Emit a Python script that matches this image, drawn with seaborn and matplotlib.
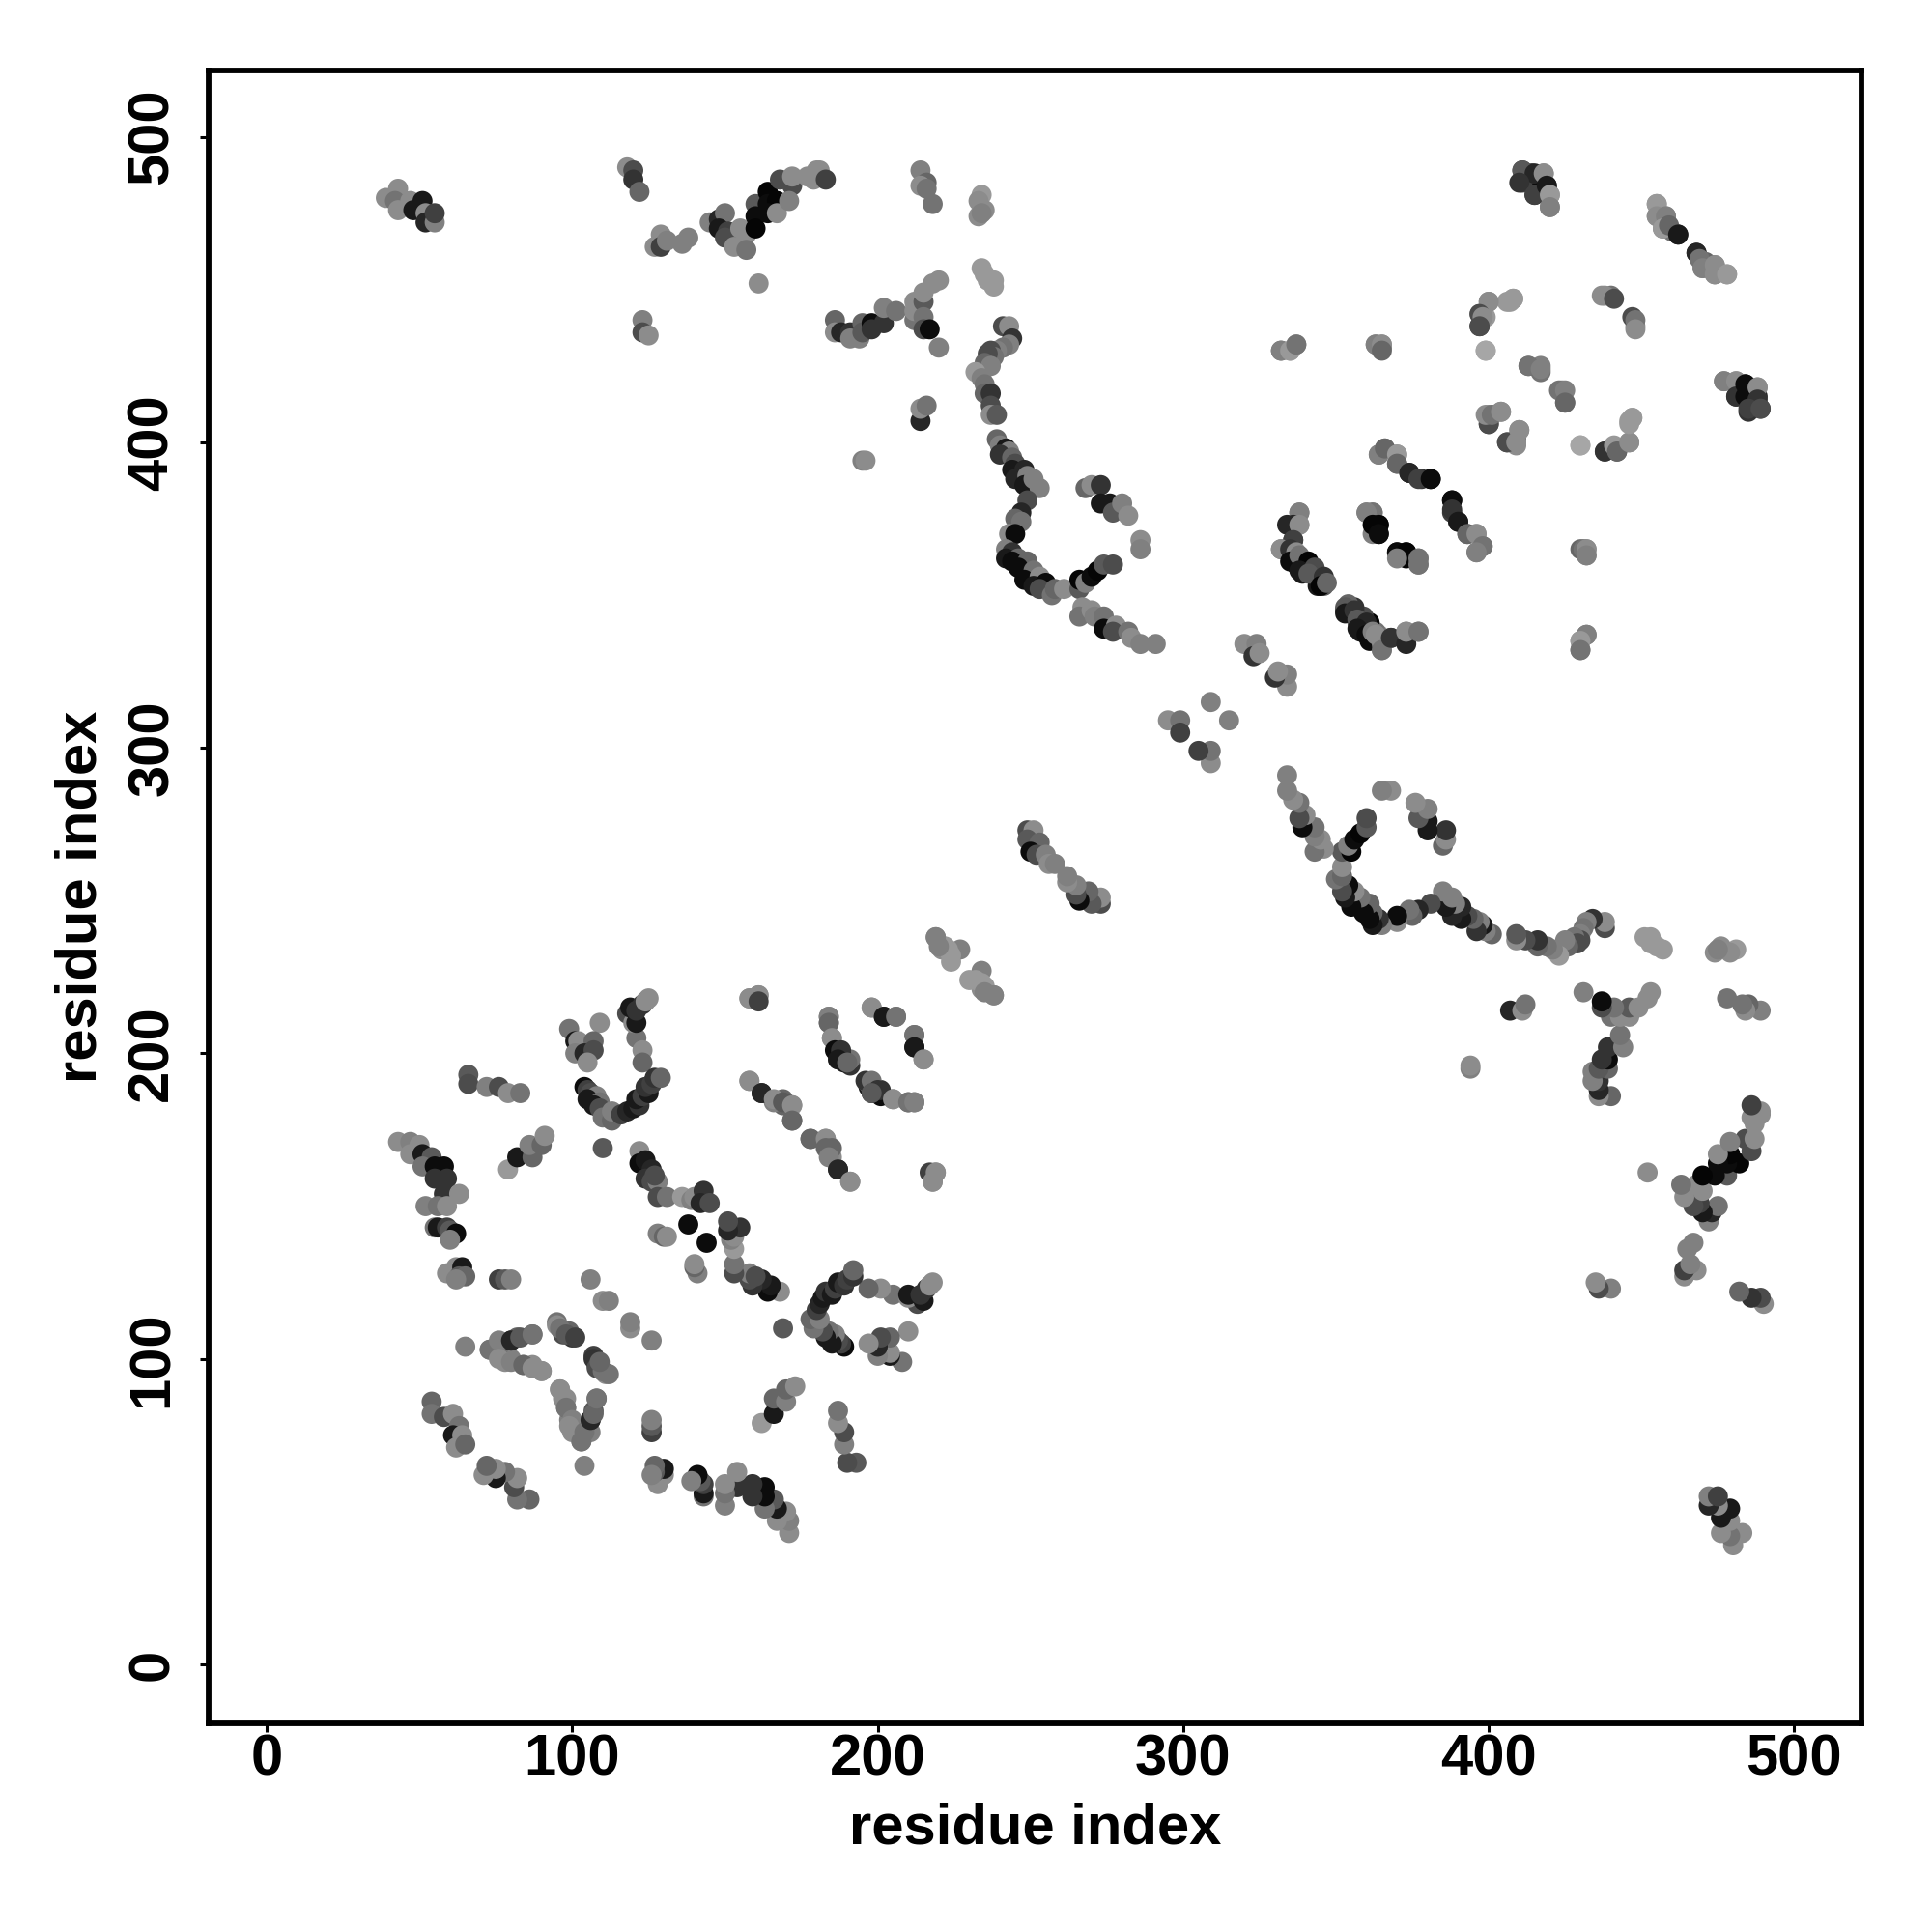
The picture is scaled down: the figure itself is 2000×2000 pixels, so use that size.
import pandas as pd
import matplotlib.pyplot as plt
import seaborn as sns

# contacts as (residue i, residue j, grey level), only i < j, the map is symmetric
left_arc = [(43, 171, .55), (47, 171, .5), (50, 170, .55), (47, 167, .55), (51, 167, .1), (54, 166, .35),
            (51, 163, .45), (55, 163, .05), (58, 163, .05), (55, 159, .2), (59, 159, .2), (58, 154, .2),
            (63, 154, .55), (52, 150, .5), (56, 150, .45), (59, 150, .55), (55, 143, .45), (56, 143, .1),
            (59, 143, .25), (60, 142, .35), (62, 141, .05), (60, 139, .5), (59, 128, .55), (62, 130, .55),
            (64, 130, .1), (63, 127, .35), (65, 127, .4), (62, 126, .5), (76, 126, .25), (78, 126, .35),
            (80, 126, .5)]
left_top = [(66, 193, .35), (66, 190, .3), (72, 189, .5), (76, 189, .3), (79, 187, .55), (83, 187, .45),
            (79, 162, .6), (82, 166, .1), (87, 166, .4), (86, 170, .5), (90, 170, .4), (91, 173, .55)]
column = [(99, 208, .45), (109, 210, .55), (101, 204, .1), (102, 204, .55), (107, 204, .4), (101, 200, .5),
          (104, 200, .15), (107, 201, .3), (105, 197, .55), (121, 205, .45), (123, 201, .55), (123, 197, .4),
          (118, 213, .3), (120, 210, .55), (121, 210, .1), (119, 215, .1), (121, 214, .2), (123, 216, .2),
          (124, 217, .55), (125, 218, .55)]
v_shape = [(104, 189, .05), (105, 188, .25), (106, 187, .3), (108, 186, .5), (105, 185, .1), (109, 184, .45),
           (107, 183, .1), (110, 181, .5), (109, 182, .3), (110, 179, .45), (113, 178, .4), (113, 181, .5),
           (116, 180, .25), (118, 181, .15), (120, 182, .1), (122, 183, .2), (121, 185, .1), (123, 186, .25),
           (125, 187, .1), (124, 189, .2), (126, 190, .25), (127, 192, .2), (129, 192, .4), (110, 169, .35)]
mid_strip = [(122, 168, .55), (122, 164, .05), (124, 165, .1), (126, 162, .15), (124, 159, .2), (126, 158, .3),
             (128, 158, .5), (127, 160, .3), (128, 153, .3), (131, 153, .45), (136, 153, .6), (139, 152, .5),
             (140, 153, .55), (143, 155, .2), (142, 151, .15), (145, 151, .3), (138, 144, .05), (128, 141, .5),
             (130, 140, .4), (131, 140, .55)]
right_arcs = [(158, 218, .55), (161, 219, .55), (161, 217, .25), (184, 212, .5), (184, 210, .4), (185, 205, .55),
              (198, 215, .55), (202, 212, .1), (206, 212, .45), (212, 206, .45), (212, 202, .1), (215, 198, .55),
              (186, 201, .05), (188, 201, .2), (187, 198, .1), (189, 197, .1), (190, 197, .4), (196, 191, .2),
              (198, 191, .45), (200, 188, .2), (198, 187, .35), (205, 185, .55), (210, 184, .45), (212, 184, .5),
              (158, 191, .55), (162, 187, .15), (166, 185, .55), (169, 184, .35), (172, 183, .55), (172, 178, .4),
              (178, 172, .4), (183, 172, .55), (183, 169, .4), (185, 169, .4), (184, 166, .5), (187, 162, .15),
              (191, 158, .55), (219, 161, .55), (218, 158, .55)]
low_block = [(54, 86, .4), (54, 82, .45), (58, 81, .3), (61, 82, .55), (63, 78, .45), (61, 75, .1), (64, 75, .55),
             (62, 71, .55), (65, 72, .4), (65, 104, .5), (73, 103, .45), (76, 106, .5), (80, 106, .15),
             (83, 107, .35), (87, 108, .45), (76, 100, .55), (80, 99, .5), (84, 98, .4), (87, 97, .55), (90, 96, .55),
             (95, 111, .55), (96, 110, .45), (98, 108, .35), (101, 107, .25), (107, 100, .2), (108, 97, .3),
             (110, 96, .45), (112, 95, .45), (109, 99, .4), (96, 90, .55), (98, 87, .55), (98, 84, .45),
             (100, 80, .5), (99, 78, .55), (103, 73, .45), (104, 76, .45), (106, 80, .15), (107, 82, .4),
             (108, 87, .45), (106, 126, .5), (110, 119, .55), (112, 119, .5)]
top_left = [(39, 480, .55), (43, 483, .55), (42, 479, .45), (43, 476, .55), (47, 479, .55), (51, 479, .1),
            (48, 476, .1), (52, 475, .55), (52, 472, .15), (55, 472, .5), (55, 475, .25), (118, 490, .55),
            (120, 489, .3), (120, 486, .2), (122, 482, .4), (127, 464, .55), (129, 468, .55), (129, 464, .25),
            (131, 466, .5), (136, 465, .5), (138, 467, .5), (145, 472, .5), (148, 473, .15), (150, 475, .45),
            (148, 470, .1), (151, 469, .25), (150, 467, .3), (153, 466, .3), (155, 470, .55), (157, 468, .55),
            (153, 464, .55), (157, 463, .45), (160, 478, .35), (160, 474, .05), (160, 470, .02), (164, 482, .02),
            (164, 478, .05), (167, 479, .02), (164, 475, .05), (167, 475, .55), (168, 486, .3), (172, 484, .3),
            (172, 487, .55), (171, 479, .5), (177, 487, .55), (180, 489, .55), (181, 489, .55), (179, 486, .55),
            (183, 486, .25), (161, 452, .55), (123, 440, .5), (123, 436, .3), (125, 435, .55)]
top_mid = [(186, 440, .4), (186, 436, .55), (188, 436, .15), (191, 436, .2), (191, 434, .5), (194, 434, .5),
           (195, 439, .4), (195, 436, .35), (198, 439, .05), (198, 437, .2), (202, 439, .2), (202, 444, .5),
           (206, 443, .45), (212, 446, .55), (212, 440, .45), (212, 443, .55), (215, 446, .35), (215, 441, .45),
           (215, 437, .3), (217, 437, .05), (215, 449, .55), (218, 452, .55), (220, 453, .55), (220, 431, .5),
           (214, 407, .15), (214, 411, .55), (216, 412, .45), (195, 394, .5), (196, 394, .55),
           (214, 489, .5), (216, 485, .4), (214, 484, .55), (216, 483, .45), (218, 478, .45),
           (234, 481, .6), (233, 479, .55), (235, 476, .55), (233, 474, .55), (234, 475, .5),
           (234, 457, .6), (235, 455, .6), (238, 453, .6), (238, 451, .6), (236, 453, .6)]
strand_a = [(241, 438, .3), (243, 438, .55), (244, 434, .2), (243, 432, .5), (241, 431, .45), (239, 430, .5),
            (237, 430, .3), (238, 428, .45), (236, 429, .3), (235, 426, .4), (237, 425, .5), (232, 423, .6),
            (234, 421, .5), (235, 419, .45), (235, 416, .4), (237, 416, .2), (237, 412, .3), (237, 409, .55),
            (239, 409, .35)]
strand_b = [(239, 401, .4), (240, 399, .5), (242, 398, .1), (243, 397, .5), (240, 396, .2), (244, 395, .4),
            (245, 393, .3), (244, 391, .1), (248, 391, .15), (245, 388, .15), (249, 389, .5), (248, 386, .1),
            (251, 388, .5), (253, 385, .5), (249, 381, .3), (247, 377, .15), (245, 375, .4), (247, 374, .45),
            (243, 370, .55), (245, 370, .05)]
strand_c = [(242, 365, .5), (244, 364, .2), (242, 362, .1), (246, 362, .4), (244, 361, .05), (249, 361, .4),
            (246, 359, .05), (251, 358, .45), (248, 355, .05), (253, 356, .55), (251, 353, .1), (255, 354, .05),
            (253, 352, .3), (257, 350, .45), (258, 352, .4), (261, 352, .55), (266, 352, .35), (266, 355, .02),
            (268, 354, .5), (270, 356, .05), (272, 358, .02), (274, 360, .35), (277, 360, .3)]
strand_d = [(268, 385, .4), (270, 386, .55), (273, 386, .2), (273, 380, .1), (276, 380, .1), (277, 377, .35),
            (280, 380, .5), (282, 376, .55), (286, 368, .55), (286, 365, .5), (267, 346, .55), (266, 343, .45),
            (270, 345, .55), (271, 343, .5), (274, 343, .45), (274, 339, .05), (278, 340, .55), (277, 338, .3),
            (282, 338, .45), (283, 336, .55), (286, 334, .5), (291, 334, .5)]
centre = [(249, 273, .3), (251, 273, .55), (249, 270, .35), (253, 269, .4), (250, 266, .05), (252, 265, .3),
          (255, 265, .5), (256, 262, .55), (258, 262, .5), (219, 238, .55), (222, 235, .6), (221, 234, .55),
          (224, 230, .6), (227, 234, .5), (224, 232, .6), (223, 234, .6), (220, 235, .5), (219, 238, .5),
          (295, 309, .55), (299, 309, .45), (299, 305, .25), (309, 315, .5), (320, 334, .55), (324, 334, .5),
          (323, 330, .2), (325, 331, .55)]
right_top = [(411, 489, .35), (415, 488, .15), (418, 488, .55), (410, 485, .2), (415, 481, .25), (419, 484, .1),
             (420, 481, .6), (420, 477, .5), (455, 478, .6), (455, 474, .55), (458, 474, .5), (457, 470, .6),
             (459, 471, .4), (462, 468, .1), (468, 462, .15), (469, 460, .45), (470, 457, .5), (474, 458, .55),
             (474, 455, .55), (478, 455, .6), (438, 448, .55), (441, 447, .3), (448, 440, .45), (448, 437, .55),
             (400, 446, .55), (407, 446, .6), (408, 447, .6), (397, 442, .3), (398, 441, .55), (397, 438, .3),
             (399, 430, .65), (413, 425, .45), (417, 424, .5), (423, 417, .45), (425, 417, .5), (425, 413, .4),
             (400, 406, .3), (399, 409, .55), (401, 409, .45), (404, 410, .55), (406, 400, .3), (409, 400, .55),
             (410, 404, .55), (430, 399, .65), (438, 397, .2), (441, 399, .6), (442, 397, .4), (446, 400, .55),
             (446, 406, .6), (447, 408, .6), (477, 420, .5), (481, 420, .55), (481, 415, .2), (484, 419, .05),
             (484, 415, .05), (488, 418, .55), (488, 414, .2), (485, 411, .25), (489, 411, .3)]
right_mid = [(332, 430, .5), (335, 430, .6), (337, 432, .45), (363, 432, .5), (365, 432, .55), (365, 430, .4),
             (364, 396, .5), (366, 398, .4), (370, 396, .6), (370, 393, .4), (374, 390, .15), (377, 388, .25),
             (381, 388, .05), (388, 381, .05), (388, 378, .2), (390, 374, .1), (393, 370, .4), (396, 370, .55),
             (398, 366, .45), (396, 364, .5), (362, 377, .45), (360, 377, .5), (362, 373, .02), (364, 373, .02),
             (364, 370, .05), (370, 364, .05), (373, 364, .02), (377, 362, .45), (377, 360, .45), (370, 362, .5),
             (431, 365, .45), (432, 365, .55), (432, 363, .5), (432, 337, .5), (430, 335, .6), (430, 332, .45)]
right_strands = [(338, 377, .5), (336, 373, .15), (338, 373, .55), (336, 368, .25), (332, 365, .55), (335, 365, .2),
                 (337, 364, .55), (335, 361, .05), (338, 363, .45), (341, 361, .02), (338, 358, .1), (343, 359, .3),
                 (341, 357, .35), (346, 356, .2), (345, 353, .02), (347, 354, .4), (353, 346, .35), (353, 344, .1),
                 (356, 345, .2), (357, 342, .35), (360, 341, .15), (357, 339, .1), (360, 337, .05), (362, 338, .5),
                 (363, 337, .55), (365, 334, .55), (365, 332, .45), (368, 336, .2), (373, 334, .15), (373, 338, .55),
                 (377, 338, .45)]

axis_ticks = [0, 100, 200, 300, 400, 500]

groups = [left_arc, left_top, column, v_shape, mid_strip, right_arcs, low_block, top_left, top_mid,
          strand_a, strand_b, strand_c, strand_d, centre, right_top, right_mid, right_strands]
rows = [row for group in groups for row in group]
upper = pd.DataFrame(rows, columns=["i", "j", "grey"])
lower = upper.rename(columns={"i": "j", "j": "i"})
df = pd.concat([lower, upper], ignore_index=True)

sns.set_style("white")
plt.rcParams["font.family"] = ["Liberation Sans", "DejaVu Sans"]
plt.rcParams["font.weight"] = "bold"

fig = plt.figure(figsize=(10, 10), dpi=200)
ax = fig.add_axes([216 / 2000, 1 - 1784 / 2000, (1927 - 216) / 2000, (1784 - 73) / 2000])

sns.scatterplot(data=df, x="i", y="j", hue="grey", palette="gray", hue_norm=(0, 1),
                s=56, linewidth=0, legend=False, ax=ax)

ax.set_xlim(-19, 522)
ax.set_ylim(-19.3, 521.7)
ax.set_xticks(axis_ticks)
ax.set_yticks(axis_ticks)
ax.tick_params(axis="both", length=3.2, width=1.1, color="black", labelsize=21.5, labelcolor="black", left=True, bottom=True)
ax.tick_params(axis="x", pad=0.7)
ax.tick_params(axis="y", pad=7.7)
for label in ax.get_yticklabels():
    label.set_rotation(90)
    label.set_va("center")
for side in ax.spines.values():
    side.set_linewidth(2.1)
    side.set_color("black")

ax.set_xlabel("residue index", fontsize=21.5, fontweight="bold", color="black", labelpad=5.8)
ax.set_ylabel("residue index", fontsize=21.5, fontweight="bold", color="black", labelpad=6.8)

fig.savefig("out.png", dpi=200)
